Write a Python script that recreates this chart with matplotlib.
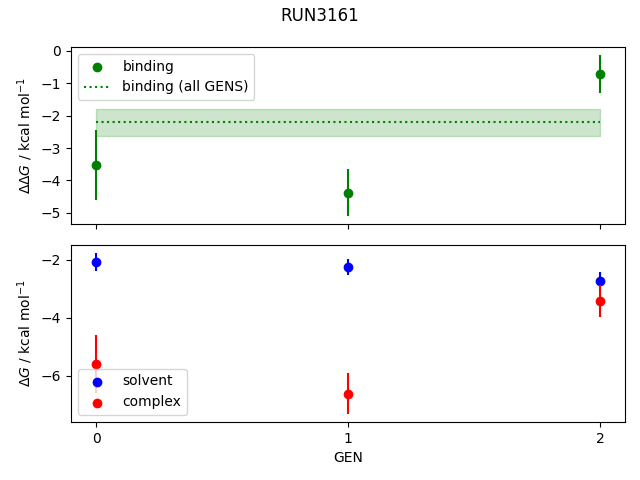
import matplotlib
matplotlib.use("Agg")
import matplotlib.pyplot as plt
import numpy as np

gens = [0, 1, 2]
binding = [-3.51, -4.38, -0.71]
binding_err = [1.08, 0.73, 0.58]
binding_all = -2.21
binding_all_err = 0.43
solvent = [-2.07, -2.24, -2.73]
solvent_err = [0.32, 0.27, 0.31]
complex_ = [-5.60, -6.61, -3.43]
complex_err = [1.00, 0.70, 0.55]

fig, axes = plt.subplots(2, 1, sharex=True)
plt.suptitle('RUN3161', y=0.985)

ax = axes[0]
ax.scatter(gens, binding, color='green', label='binding')
ax.errorbar(gens, binding, yerr=binding_err, fmt='none', color='green')
ax.hlines(binding_all, 0, 2, color='green', linestyle=':', label='binding (all GENS)')
ax.fill_between([0, 2], binding_all - binding_all_err, binding_all + binding_all_err,
                color='green', alpha=0.2)
ax.set_ylabel(r'$\Delta\Delta G$ / kcal mol$^{-1}$')
ax.legend()

ax = axes[1]
ax.scatter(gens, solvent, color='blue', label='solvent')
ax.errorbar(gens, solvent, yerr=solvent_err, fmt='none', color='blue')
ax.scatter(gens, complex_, color='red', label='complex')
ax.errorbar(gens, complex_, yerr=complex_err, fmt='none', color='red')
ax.set_ylabel(r'$\Delta G$ / kcal mol$^{-1}$')
ax.set_xlabel('GEN')
ax.set_xticks(gens)
ax.legend()

plt.subplots_adjust(left=0.111, right=0.977, top=0.902, bottom=0.121, hspace=0.113)
plt.savefig('out.png')
